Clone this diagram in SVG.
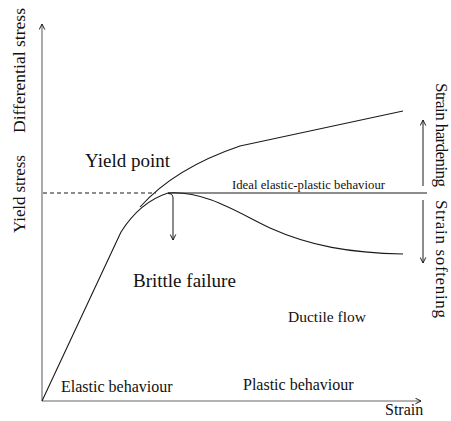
<svg xmlns="http://www.w3.org/2000/svg" width="451" height="421" viewBox="0 0 451 421">
<defs>
<marker id="oa" viewBox="0 0 10 10" refX="9" refY="5" markerWidth="7" markerHeight="7" orient="auto" markerUnits="userSpaceOnUse">
<path d="M1,1 L9,5 L1,9" fill="none" stroke="#1a1a1a" stroke-width="1.4"/>
</marker>
</defs>
<g id="connectors" fill="none">
<g stroke="#666" stroke-width="1.1">
<line id="y-axis" x1="42" y1="401" x2="42" y2="24" marker-end="url(#oa)"/>
<line id="x-axis" x1="42" y1="401" x2="421" y2="401" marker-end="url(#oa)"/>
</g>
<line id="yield-dash" x1="43" y1="193" x2="156" y2="193" stroke="#1a1a1a" stroke-width="1" stroke-dasharray="4,3"/>
<g stroke="#1a1a1a" stroke-width="1.1" stroke-linejoin="round">
<path id="elastic" d="M42,401 L121,232 Q140,202 168,193"/>
<path id="ideal" d="M168,193 L427,193"/>
<path id="hardening" d="M140,207 Q175,168 240,146 L403,111"/>
<path id="softening" d="M168,193 C205,190 240,214 270,228 C310,246 350,253 403,254"/>
</g>
<g stroke="#1a1a1a" stroke-width="1">
<path id="brittle-arrow" d="M168,193.5 Q173,193.5 173,198 L173,240" marker-end="url(#oa)"/>
<line id="hard-arrow" x1="423" y1="186" x2="423" y2="120" marker-end="url(#oa)"/>
<line id="soft-arrow" x1="423" y1="200" x2="423" y2="263" marker-end="url(#oa)"/>
</g>
</g>
<g font-family="'Liberation Serif', 'Times New Roman', serif" fill="#111">
<g id="label-diff"><text transform="translate(25,133) rotate(-90)" font-size="17.5" textLength="125">Differential stress</text></g>
<g id="label-yieldstress"><text transform="translate(25,233) rotate(-90)" font-size="17" textLength="78">Yield stress</text></g>
<g id="label-yieldpoint"><text x="85" y="167" font-size="19">Yield point</text></g>
<g id="label-ideal"><text x="232" y="189" font-size="12.7" textLength="153">Ideal elastic-plastic behaviour</text></g>
<g id="label-brittle"><text x="133" y="287" font-size="19">Brittle failure</text></g>
<g id="label-ductile"><text x="288" y="322" font-size="15.5">Ductile flow</text></g>
<g id="label-elastic"><text x="61" y="392" font-size="16">Elastic behaviour</text></g>
<g id="label-plastic"><text x="243" y="390" font-size="16">Plastic behaviour</text></g>
<g id="label-strain"><text x="385" y="415" font-size="16">Strain</text></g>
<g id="label-hardening"><text transform="translate(436,83) rotate(90)" font-size="17" textLength="104">Strain hardening</text></g>
<g id="label-softening"><text transform="translate(436,200) rotate(90)" font-size="17" textLength="118">Strain softening</text></g>
</g>
</svg>
